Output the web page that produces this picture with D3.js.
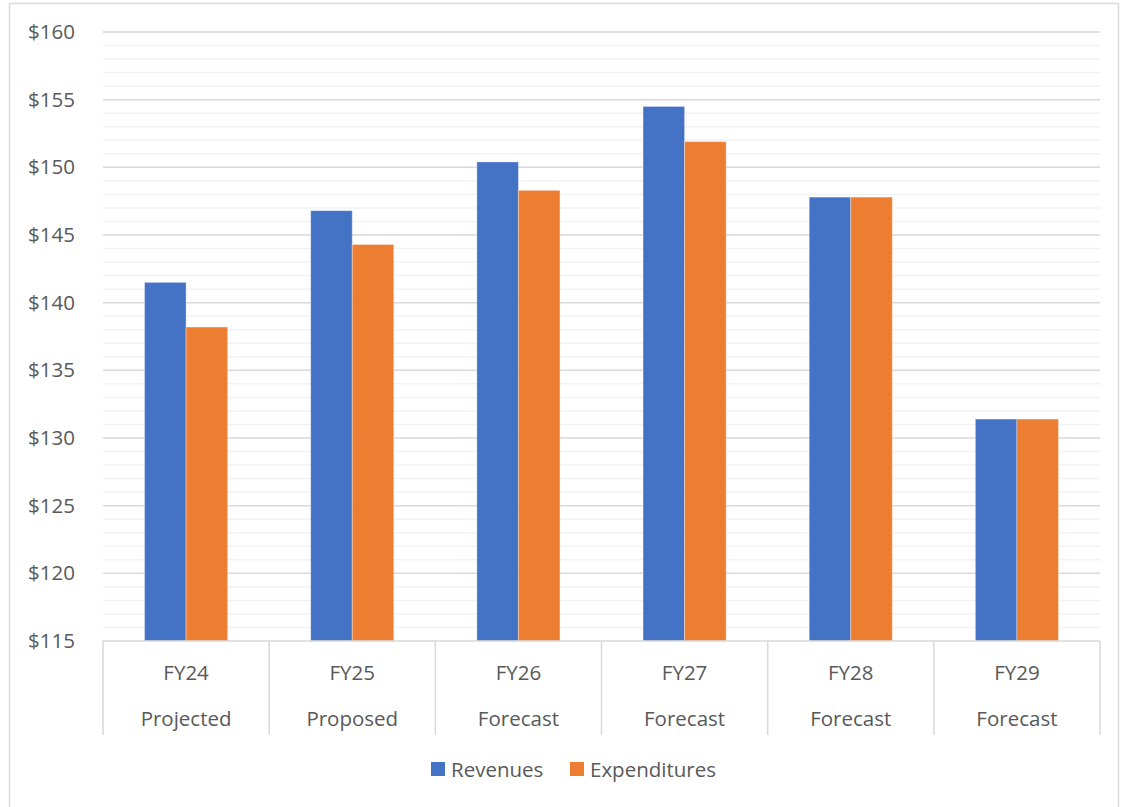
<!DOCTYPE html>
<html>
<head>
<meta charset="utf-8">
<script src="https://cdn.jsdelivr.net/npm/d3@7"></script>
<style>
  body { margin: 0; background: #fff; }
  svg text { font-family: "Open Sans", sans-serif; fill: #595959; }
</style>
</head>
<body>
<div id="chart"></div>
<script>
// chart data
const years = ["FY24", "FY25", "FY26", "FY27", "FY28", "FY29"];
const stages = ["Projected", "Proposed", "Forecast", "Forecast", "Forecast", "Forecast"];
const revenues = [141.5, 146.8, 150.4, 154.5, 147.8, 131.4];
const expenditures = [138.2, 144.3, 148.3, 151.9, 147.8, 131.4];
const seriesNames = ["Revenues", "Expenditures"];
const yTicks = [115, 120, 125, 130, 135, 140, 145, 150, 155, 160];

const W = 1123, H = 807;
const margin = {top: 32, right: 23, bottom: 166, left: 103};
const width = W - margin.left - margin.right;
const height = H - margin.top - margin.bottom;
const colors = ["#4472c4", "#ed7d31"];
const fontSize = "20.5px";

const svg = d3.select("#chart").append("svg")
  .attr("width", W)
  .attr("height", H);

// outer chart border
svg.append("rect")
  .attr("x", 9.5).attr("y", 3.5)
  .attr("width", 1109).attr("height", 810)
  .attr("fill", "none")
  .attr("stroke", "#d9d9d9")
  .attr("stroke-width", 1.5);

const g = svg.append("g")
  .attr("transform", `translate(${margin.left},${margin.top})`);

const x0 = d3.scaleBand().domain(years).range([0, width]).padding(0);
const x1 = d3.scaleBand().domain(seriesNames)
  .range([x0.bandwidth() * 0.25, x0.bandwidth() * 0.75]).padding(0);
const y = d3.scaleLinear().domain([115, 160]).range([height, 0]);

// minor gridlines
g.append("g")
  .selectAll("line")
  .data(d3.range(116, 160).filter(v => v % 5 !== 0))
  .enter().append("line")
    .attr("x1", 0).attr("x2", width)
    .attr("y1", d => y(d)).attr("y2", d => y(d))
    .attr("stroke", "#f2f2f2")
    .attr("stroke-width", 1.5);

// major gridlines
g.append("g")
  .selectAll("line")
  .data(yTicks.slice(1))
  .enter().append("line")
    .attr("x1", 0).attr("x2", width)
    .attr("y1", d => y(d)).attr("y2", d => y(d))
    .attr("stroke", "#d9d9d9")
    .attr("stroke-width", 1.5);

// y axis labels
const yAxis = d3.axisLeft(y).tickValues(yTicks).tickSize(0).tickPadding(28)
  .tickFormat(d => "$" + d);
g.append("g")
  .call(yAxis)
  .call(a => a.select(".domain").remove())
  .call(a => a.selectAll("text")
    .style("font-size", fontSize)
    .attr("fill", "#595959")
    .style("font-family", "'Open Sans', sans-serif"));

// bars
const rows = years.map((yr, i) => ({year: yr, values: [revenues[i], expenditures[i]]}));
g.append("g")
  .selectAll("g")
  .data(rows)
  .enter().append("g")
    .attr("transform", d => `translate(${x0(d.year)},0)`)
  .selectAll("rect")
  .data(d => d.values.map((v, k) => ({key: seriesNames[k], value: v, k})))
  .enter().append("rect")
    .attr("x", d => x1(d.key))
    .attr("y", d => y(d.value))
    .attr("width", x1.bandwidth())
    .attr("height", d => height - y(d.value))
    .attr("fill", d => colors[d.k])
    .attr("stroke", "#fff")
    .attr("stroke-opacity", 0.35)
    .attr("stroke-width", 1);

// category axis: base line and separators
g.append("line")
  .attr("x1", 0).attr("x2", width)
  .attr("y1", height).attr("y2", height)
  .attr("stroke", "#d9d9d9")
  .attr("stroke-width", 1.5);

const seps = years.map(d => x0(d)).concat([width]);
g.append("g")
  .selectAll("line")
  .data(seps)
  .enter().append("line")
    .attr("x1", d => d).attr("x2", d => d)
    .attr("y1", height).attr("y2", height + 94)
    .attr("stroke", "#d9d9d9")
    .attr("stroke-width", 1.5);

const labels = g.append("g")
  .selectAll("g")
  .data(years.map((yr, i) => ({year: yr, stage: stages[i]})))
  .enter().append("g")
    .attr("transform", d => `translate(${x0(d.year) + x0.bandwidth() / 2},${height})`);
labels.append("text")
  .attr("y", 39)
  .attr("text-anchor", "middle")
  .style("font-size", fontSize)
  .text(d => d.year);
labels.append("text")
  .attr("y", 85)
  .attr("text-anchor", "middle")
  .style("font-size", fontSize)
  .text(d => d.stage);

// legend
const legend = svg.append("g");
const legendX = [431, 570];
seriesNames.forEach((name, i) => {
  legend.append("rect")
    .attr("x", legendX[i]).attr("y", 762)
    .attr("width", 14).attr("height", 14)
    .attr("fill", colors[i]);
  legend.append("text")
    .attr("x", legendX[i] + 20).attr("y", 777)
    .style("font-size", fontSize)
    .text(name);
});
</script>
</body>
</html>
